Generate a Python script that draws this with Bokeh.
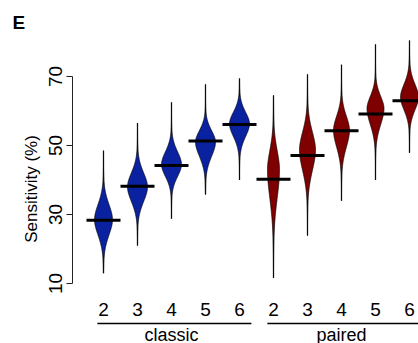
import numpy as np
from bokeh.plotting import figure
from bokeh.models import Range1d, LinearAxis, FixedTicker, Title
from bokeh.embed import file_html
from bokeh.resources import INLINE
from bokeh.core.properties import value

# ---- data ----
groups = ["classic", "paired"]
sizes = ["2", "3", "4", "5", "6"]

classic_median = [28.3, 38.2, 44.2, 51.3, 56.1]
classic_low = [13.0, 21.0, 28.8, 35.8, 40.0]
classic_high = [48.5, 56.5, 62.5, 67.7, 69.4]
classic_mode = [28.5, 38.0, 44.5, 51.0, 56.3]
classic_spread_up = [11.4, 10.6, 9.5, 8.6, 8.7]
classic_spread_down = [11.5, 11.0, 9.0, 10.7, 9.6]
classic_density = [18, 20, 20, 20, 20]

paired_median = [40.2, 47.1, 54.3, 59.1, 63.0]
paired_low = [11.6, 23.9, 34.0, 40.0, 47.9]
paired_high = [64.5, 70.6, 73.4, 79.3, 80.4]
paired_mode = [43.0, 48.7, 54.4, 60.7, 64.0]
paired_spread_up = [14.4, 13.5, 10.6, 9.2, 9.7]
paired_spread_down = [21.5, 15.4, 12.6, 12.0, 9.6]
paired_density = [12, 16, 16, 17, 18]

y_ticks = [10, 30, 50, 70]

FONT = "Liberation Sans"
BLUE = "#0a22a0"
RED = "#7f0000"

W, H = 418, 343
LEFT = 72
TOP = 34
PX_PER_X = 34.0
y_top_px, y_bot_px = 76.0, 283.0
px_per_y = (y_bot_px - y_top_px) / 60.0
y_hi = 70 + (y_top_px - TOP) / px_per_y
y_lo = 10 - (H - y_bot_px) / px_per_y
x_start = (LEFT - 103.0) / PX_PER_X
x_end = x_start + (W - LEFT) / PX_PER_X


def px_to_y(py):
    return 70 - (py - y_top_px) / px_per_y


p = figure(width=W, height=H, output_backend="svg", toolbar_location=None,
           x_range=Range1d(x_start, x_end), y_range=Range1d(y_lo, y_hi),
           x_axis_location=None, y_axis_location=None,
           min_border_left=LEFT, min_border_right=0, min_border_top=TOP, min_border_bottom=0)
p.outline_line_color = None
p.xgrid.visible = False
p.ygrid.visible = False
p.background_fill_color = "white"
p.border_fill_color = "white"

p.title = Title(text="E", align="left", offset=12 - LEFT, standoff=3,
                text_font=FONT, text_font_size="19px", text_font_style="bold",
                text_color="black")

yaxis = LinearAxis(bounds=(10, 70), ticker=FixedTicker(ticks=y_ticks),
                   axis_label="Sensitivity (%)")
yaxis.major_label_orientation = "vertical"
yaxis.minor_tick_line_color = None
yaxis.major_tick_in = 0
yaxis.major_tick_out = 6
yaxis.axis_line_color = "#222222"
yaxis.major_tick_line_color = "#222222"
yaxis.major_label_text_font = FONT
yaxis.major_label_text_font_size = "19px"
yaxis.major_label_text_color = "black"
yaxis.major_label_standoff = 5
yaxis.axis_label_text_font = FONT
yaxis.axis_label_text_font_size = "17px"
yaxis.axis_label_text_font_style = "normal"
yaxis.axis_label_text_color = "black"
yaxis.axis_label_standoff = 5
p.add_layout(yaxis, "left")

series = [
    (classic_median, classic_low, classic_high, classic_mode, classic_spread_up,
     classic_spread_down, classic_density, BLUE),
    (paired_median, paired_low, paired_high, paired_mode, paired_spread_up,
     paired_spread_down, paired_density, RED),
]

xs_all, ys_all, colors = [], [], []
tail_x, tail_y0, tail_y1 = [], [], []
med_x0, med_x1, med_y = [], [], []
for g, (med, lo, hi, mode, su, sd, dens, col) in enumerate(series):
    for i in range(len(sizes)):
        xc = g * len(sizes) + i
        ys = np.linspace(lo[i], hi[i], 300)
        d = ys - mode[i]
        s = np.where(d > 0, su[i], sd[i])
        hw = dens[i] / 2.0 / PX_PER_X * np.exp(-3.0 * (np.abs(d) / s) ** 1.9)
        xs_all.append(list(np.concatenate([xc + hw, (xc - hw)[::-1]])))
        ys_all.append(list(np.concatenate([ys, ys[::-1]])))
        colors.append(col)
        tail_x.append(xc)
        tail_y0.append(lo[i])
        tail_y1.append(hi[i])
        med_x0.append(xc - 0.5)
        med_x1.append(xc + 0.5)
        med_y.append(med[i])

p.segment(x0=tail_x, y0=tail_y0, x1=tail_x, y1=tail_y1, line_color="#3a3a3a", line_width=1.3)
p.patches(xs=xs_all, ys=ys_all, fill_color=colors, line_color="black", line_width=0.7)
p.segment(x0=med_x0, y0=med_y, x1=med_x1, y1=med_y, line_color="black", line_width=3)

# category labels under the violins
lab_x = list(range(len(groups) * len(sizes)))
p.text(x=lab_x, y=[px_to_y(309)] * len(lab_x), text=sizes * len(groups),
       text_align="center", text_baseline="middle", text_font=value(FONT),
       text_font_size="19px", text_color="black")
# group underline + label
gx0 = [g * len(sizes) - 0.18 for g in range(len(groups))]
gx1 = [g * len(sizes) + 4.35 for g in range(len(groups))]
p.segment(x0=gx0, y0=[px_to_y(323)] * 2, x1=gx1, y1=[px_to_y(323)] * 2,
          line_color="black", line_width=1.3)
p.text(x=[g * len(sizes) + 2 for g in range(len(groups))], y=[px_to_y(334)] * 2,
       text=groups, text_align="center", text_baseline="middle",
       text_font=value(FONT), text_font_size="18px", text_color="black")

open("out.html", "w").write(file_html(p, INLINE))
